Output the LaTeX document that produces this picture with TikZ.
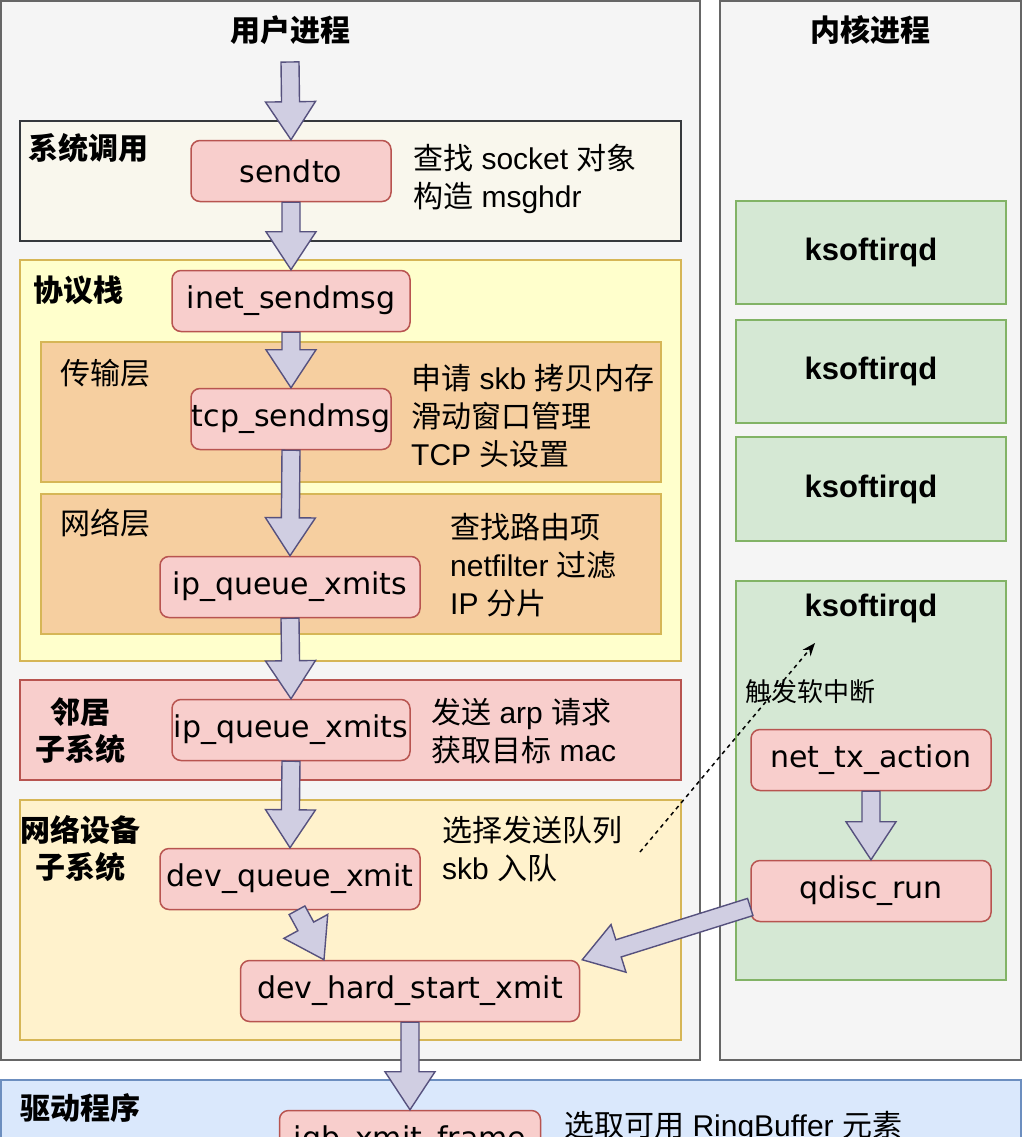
\documentclass[tikz,border=0pt]{standalone}
\usepackage{fontspec}
\setmainfont{Liberation Sans}
\newfontfamily\cjk{Noto Sans CJK SC}
\newfontfamily\fnfont{DejaVu Sans}
\usetikzlibrary{arrows.meta,calc}

\definecolor{panelfill}{HTML}{F5F5F5}
\definecolor{panelline}{HTML}{666666}
\definecolor{sysfill}{HTML}{F9F7ED}
\definecolor{sysline}{HTML}{36393D}
\definecolor{protofill}{HTML}{FFFFCC}
\definecolor{yline}{HTML}{D6B656}
\definecolor{layerfill}{HTML}{F6CFA0}
\definecolor{devfill}{HTML}{FFF2CC}
\definecolor{fnfill}{HTML}{F8CECC}
\definecolor{fnline}{HTML}{B85450}
\definecolor{drvfill}{HTML}{DAE8FC}
\definecolor{drvline}{HTML}{6C8EBF}
\definecolor{kfill}{HTML}{D5E8D4}
\definecolor{kline}{HTML}{82B366}
\definecolor{flowfill}{HTML}{D0CEE2}
\definecolor{flowline}{HTML}{56517E}

\newcommand{\zh}[1]{{\cjk #1}}

\tikzset{
  fn/.style={draw=fnline, fill=fnfill, rounded corners=9pt, line width=1.5pt,
    minimum height=61pt, inner sep=0pt, font=\fnfont\fontsize{30}{36}\selectfont},
  grp/.style={line width=1.5pt},
  panel/.style={grp, draw=panelline, fill=panelfill},
  kbox/.style={grp, draw=kline, fill=kfill},
  sublabel/.style={inner sep=0pt, align=center, font=\fontsize{30}{37}\selectfont},
  tag/.style={sublabel, font=\fontsize{30}{37}\selectfont\bfseries},
  title/.style={inner sep=0pt, font=\fontsize{30}{36}\selectfont\bfseries},
  note/.style={inner sep=0pt, anchor=west, align=left, font=\fontsize{30}{38}\selectfont},
  kname/.style={inner sep=0pt, font=\fontsize{31}{36}\selectfont\bfseries},
  trig/.style={line width=1.5pt, dash pattern=on 4pt off 4pt, -{Stealth[length=13pt,width=10pt]}},
  flow/.style={draw=flowline, fill=flowfill, line width=1.4pt, line join=miter,
    to path={let \p1=(\tikztostart), \p2=(\tikztotarget),
      \n1={atan2(\y2-\y1,\x2-\x1)}, \n2={veclen(\x2-\x1,\y2-\y1)} in
      ([shift={(\p1)},rotate=\n1]0,9) -- ([shift={(\p1)},rotate=\n1]\n2-38,9)
      -- ([shift={(\p1)},rotate=\n1]\n2-38,25) -- ([shift={(\p1)},rotate=\n1]\n2,0)
      -- ([shift={(\p1)},rotate=\n1]\n2-38,-25) -- ([shift={(\p1)},rotate=\n1]\n2-38,-9)
      -- ([shift={(\p1)},rotate=\n1]0,-9) -- cycle}}
}

\begin{document}
\begin{tikzpicture}[x=1pt,y=-1pt]
\useasboundingbox (0,0) rectangle (1022,1137);
\clip (0,0) rectangle (1022,1137);

% panels
\draw[panel] (1,1) rectangle (700,1060);
\draw[panel] (720,1) rectangle (1021,1060);
\node[title] (user) at (290,30) {\zh{用户进程}};
\node[title] (kern) at (870,30) {\zh{内核进程}};

% layers
\draw[grp, draw=sysline, fill=sysfill] (20,121) rectangle (681,241);
\draw[grp, draw=yline, fill=protofill] (20,260) rectangle (681,661);
\draw[grp, draw=yline, fill=layerfill] (41,342) rectangle (661,482);
\draw[grp, draw=yline, fill=layerfill] (41,494) rectangle (661,634);
\draw[grp, draw=fnline, fill=fnfill] (20,680) rectangle (681,780);
\draw[grp, draw=yline, fill=devfill] (20,800) rectangle (681,1040);
\draw[grp, draw=drvline, fill=drvfill] (1,1080) rectangle (1021,1200);

\node[tag] (sysl) at (88,148) {\zh{系统调用}};
\node[tag] (protol) at (78,290) {\zh{协议栈}};
\node[sublabel] (transl) at (105,373) {\zh{传输层}};
\node[sublabel] (netl) at (105,523) {\zh{网络层}};
\node[tag] (neighl) at (80,731) {\zh{邻居}\\\zh{子系统}};
\node[tag] (devl) at (80,849) {\zh{网络设备}\\\zh{子系统}};
\node[tag] (drvl) at (80,1108) {\zh{驱动程序}};

% kernel side
\draw[kbox] (736,201) rectangle (1006,304);
\draw[kbox] (736,320) rectangle (1006,423);
\draw[kbox] (736,437) rectangle (1006,541);
\draw[kbox] (736,581) rectangle (1006,980);
\node[kname] (k1) at (871,252) {ksoftirqd};
\node[kname] (k2) at (871,371) {ksoftirqd};
\node[kname] (k3) at (871,489) {ksoftirqd};
\node[kname] (k4) at (871,608) {ksoftirqd};

% functions
\node[fn, minimum width=200pt] (sendto) at (291,171) {sendto};
\node[fn, minimum width=238pt] (inet) at (291,301) {inet\_sendmsg};
\node[fn, minimum width=200pt] (tcp) at (291,419) {tcp\_sendmsg};
\node[fn, minimum width=260pt] (ipq) at (290,587) {ip\_queue\_xmits};
\node[fn, minimum width=238pt] (neigh) at (291,730) {ip\_queue\_xmits};
\node[fn, minimum width=260pt] (devq) at (290,879) {dev\_queue\_xmit};
\node[fn, minimum width=339pt] (hard) at (410,991) {dev\_hard\_start\_xmit};
\node[fn, minimum width=261pt] (igb) at (410,1141) {igb\_xmit\_frame};
\node[fn, minimum width=240pt] (nettx) at (871,760) {net\_tx\_action};
\node[fn, minimum width=240pt] (qdisc) at (871,891) {qdisc\_run};

% notes
\node[note] (n1) at (413,179) {\zh{查找} socket \zh{对象}\\\zh{构造} msghdr};
\node[note] (n2) at (411,416) {\zh{申请} skb \zh{拷贝内存}\\\zh{滑动窗口管理}\\TCP \zh{头设置}};
\node[note] (n3) at (450,565) {\zh{查找路由项}\\netfilter \zh{过滤}\\IP \zh{分片}};
\node[note] (n4) at (431,731) {\zh{发送} arp \zh{请求}\\\zh{获取目标} mac};
\node[note] (n5) at (442,849) {\zh{选择发送队列}\\skb \zh{入队}};
\node[note] (n6) at (564,1127) {\zh{选取可用} RingBuffer \zh{元素}};

% flow
\coordinate (start) at (290,62);
\draw[flow] (start) to (sendto.north);
\draw[flow] (sendto.south) to (inet.north);
\draw[flow] (inet.south) to (tcp.north);
\draw[flow] (tcp.south) to (ipq.north);
\draw[flow] (ipq.south) to (neigh.north);
\draw[flow] (neigh.south) to (devq.north);
\draw[flow] ([xshift=7pt]devq.south) to ([xshift=-86pt]hard.north);
\draw[flow] (hard.south) to (igb.north);
\draw[flow] (nettx.south) to (qdisc.north);
\draw[flow] ([yshift=-16pt]qdisc.west) to ([xshift=2pt]hard.north east);

% soft irq
\coordinate (raise) at (640,852);
\coordinate (wake) at (815,643);
\draw[trig] (raise) -- (wake);
\node[inner sep=0pt, font=\fontsize{26}{30}\selectfont] (trigl) at (810,692) {\zh{触发软中断}};
\end{tikzpicture}
\end{document}
